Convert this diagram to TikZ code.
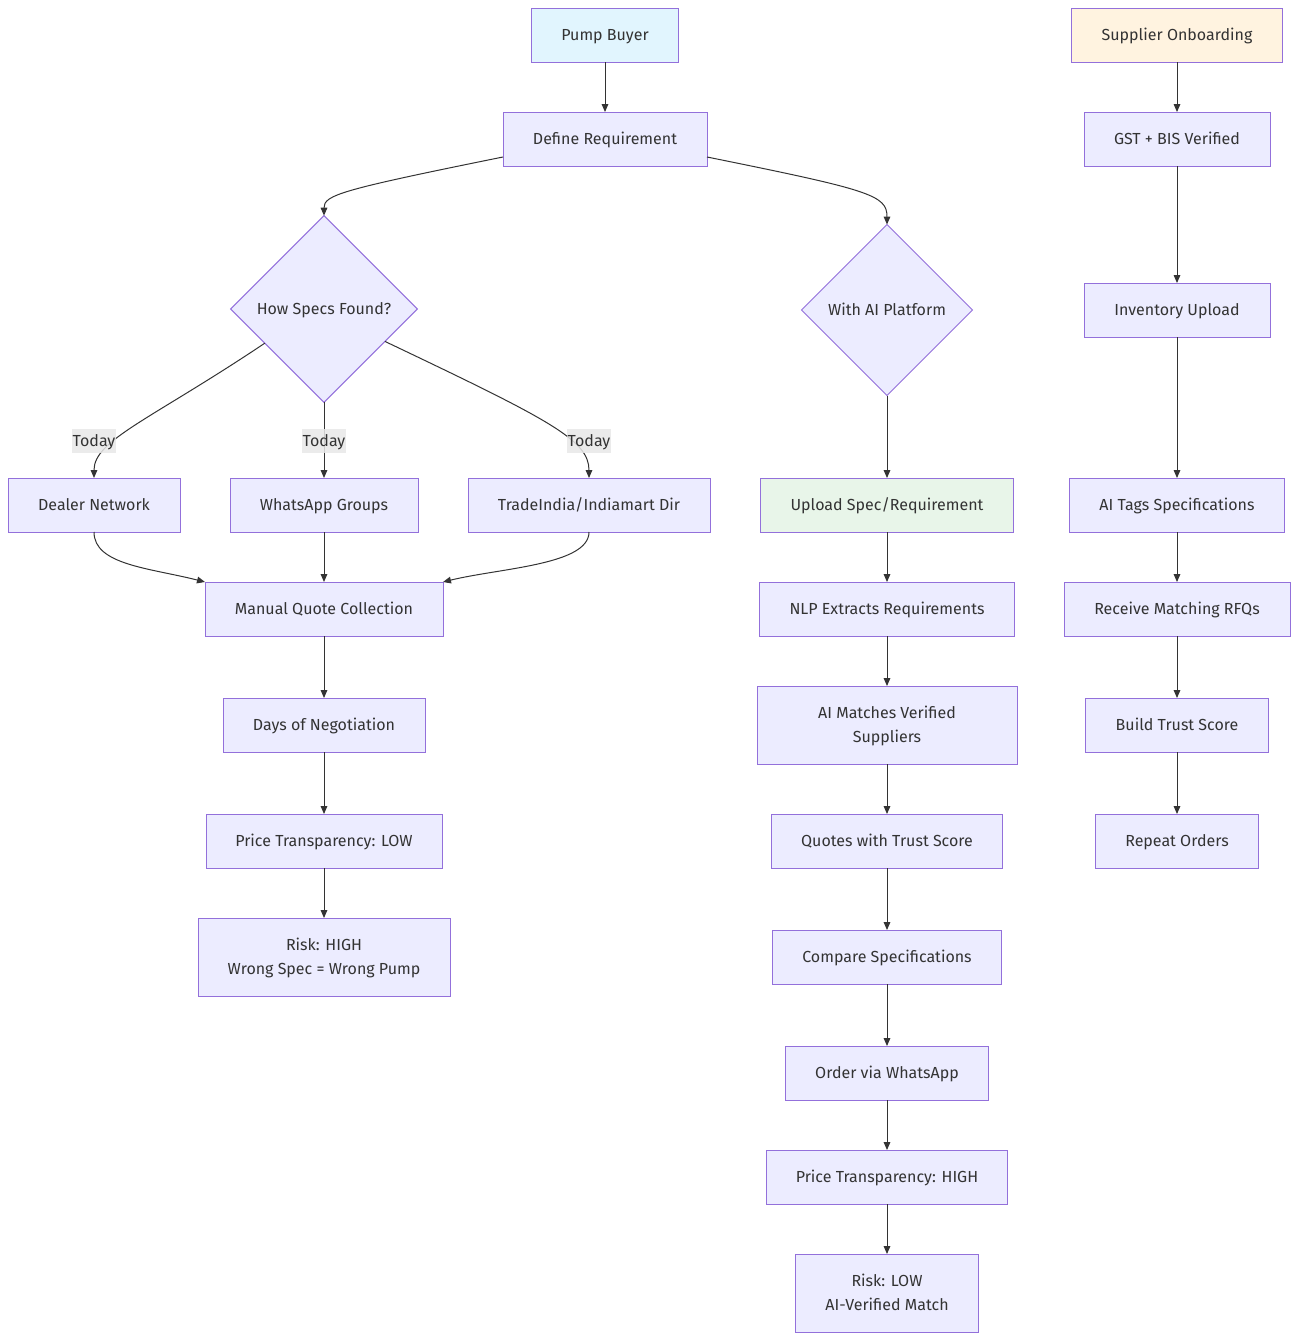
\documentclass[tikz,border=0pt]{standalone}
\usepackage{fontspec}
\setmainfont{Fira Sans}
\usepackage{tikz}
\usetikzlibrary{shapes.geometric,arrows.meta,positioning}

\definecolor{boxfill}{HTML}{ECECFF}
\definecolor{boxline}{HTML}{9370DB}
\definecolor{buyerfill}{HTML}{E1F5FE}
\definecolor{supplyfill}{HTML}{FFF3E0}
\definecolor{uploadfill}{HTML}{E8F5E9}
\definecolor{linkcol}{HTML}{333333}
\definecolor{tagfill}{HTML}{E8E8E8}

\begin{document}
\begin{tikzpicture}[x=0.75pt, y=-0.75pt, >={Triangle[length=6pt,width=5pt]},
    block/.style={rectangle, draw=boxline, fill=boxfill, line width=0.75pt, outer sep=0pt, text=linkcol, align=center, inner sep=2pt, minimum height=40.5pt, text height=8.3pt, text depth=0pt, font=\fontsize{12pt}{18pt}\selectfont},
    tallblock/.style={block, minimum height=58.5pt, text height=26.3pt, text depth=0pt},
    choice/.style={diamond, draw=boxline, fill=boxfill, line width=0.75pt, outer sep=0pt, text=linkcol, inner sep=0pt, text height=8.3pt, text depth=0pt, font=\fontsize{12pt}{18pt}\selectfont},
    link/.style={->, linkcol, line width=0.75pt},
    today/.style={fill=tagfill, fill opacity=0.85, text opacity=1, text=linkcol, inner xsep=0.5pt, inner ysep=4.85pt, text height=8.3pt, text depth=0pt, font=\fontsize{12pt}{18pt}\selectfont}]

    \useasboundingbox (0,0) rectangle (1298,1340);

    % buyer side
    \node [block, fill=buyerfill, minimum width=110.25pt] (buyer) at (605,35) {Pump Buyer};
    \node [block, minimum width=153pt, below=37.5pt of buyer] (define) {Define Requirement};
    \node [choice, minimum width=140pt, minimum height=140pt] (specs) at (324,309) {How Specs Found?};
    \node [choice, minimum width=128.25pt, minimum height=128.25pt] (aiplat) at (887,310) {With AI Platform};

    % today
    \node [block, minimum width=129pt] (dealer) at (94,505) {Dealer Network};
    \node [block, minimum width=141pt] (whatsapp) at (324,505) {WhatsApp Groups};
    \node [block, minimum width=181.5pt] (trade) at (589,505) {TradeIndia/Indiamart Dir};
    \node [block, minimum width=178.5pt, below=37.5pt of whatsapp] (manual) {Manual Quote Collection};
    \node [block, minimum width=151.5pt, below=46.5pt of manual] (days) {Days of Negotiation};
    \node [block, minimum width=177pt, below=46.5pt of days] (pricelow) {Price Transparency: LOW};
    \node [tallblock, minimum width=189pt, below=37.5pt of pricelow] (riskhigh) {Risk: HIGH\\Wrong Spec = Wrong Pump};

    % with the platform
    \node [block, fill=uploadfill, minimum width=189.75pt] (upload) at (887,505) {Upload Spec/Requirement};
    \node [block, minimum width=191.25pt, below=37.5pt of upload] (nlp) {NLP Extracts Requirements};
    \node [tallblock, minimum width=195pt, below=37.5pt of nlp] (aimatch) {AI Matches Verified\\Suppliers};
    \node [block, minimum width=173.25pt, below=37.5pt of aimatch] (quotes) {Quotes with Trust Score};
    \node [block, minimum width=171.75pt, below=46.5pt of quotes] (compare) {Compare Specifications};
    \node [block, minimum width=152.25pt, below=46.5pt of compare] (order) {Order via WhatsApp};
    \node [block, minimum width=180.75pt, below=37.5pt of order] (pricehigh) {Price Transparency: HIGH};
    \node [tallblock, minimum width=137.25pt, below=37.5pt of pricehigh] (risklow) {Risk: LOW\\AI-Verified Match};

    % supplier side
    \node [block, fill=supplyfill, minimum width=158.25pt] (supplier) at (1177,35) {Supplier Onboarding};
    \node [block, minimum width=139.5pt, below=37.5pt of supplier] (gst) {GST + BIS Verified};
    \node [block, minimum width=139.5pt, below=87.75pt of gst] (inventory) {Inventory Upload};
    \node [block, minimum width=161.25pt] (aitags) at (1177,505) {AI Tags Specifications};
    \node [block, minimum width=169.5pt, below=37.5pt of aitags] (rfq) {Receive Matching RFQs};
    \node [block, minimum width=137.25pt, below=46.5pt of rfq] (trust) {Build Trust Score};
    \node [block, minimum width=122.25pt, below=46.5pt of trust] (repeat) {Repeat Orders};

    \draw [link] (buyer) -- (define);
    \draw [link] (define.190) .. controls (340,190) and (324,195) .. (specs.north);
    \draw [link] (define.-10) .. controls (870,190) and (887,195) .. (aiplat.north);

    \draw [link] (specs.210) .. controls (150,420) and (94,440) .. (dealer.north);
    \draw [link] (specs) -- (whatsapp);
    \draw [link] (specs.-28) .. controls (550,420) and (589,440) .. (trade.north);
    \node [today] (tag1) at (94,441) {Today};
    \node [today] (tag2) at (324,441) {Today};
    \node [today] (tag3) at (589,441) {Today};

    \draw [link] (dealer.south) .. controls (94,565) and (150,568) .. (manual.north west);
    \draw [link] (whatsapp) -- (manual);
    \draw [link] (trade.south) .. controls (589,565) and (500,568) .. (manual.north east);
    \draw [link] (manual) -- (days);
    \draw [link] (days) -- (pricelow);
    \draw [link] (pricelow) -- (riskhigh);

    \draw [link] (aiplat) -- (upload);
    \draw [link] (upload) -- (nlp);
    \draw [link] (nlp) -- (aimatch);
    \draw [link] (aimatch) -- (quotes);
    \draw [link] (quotes) -- (compare);
    \draw [link] (compare) -- (order);
    \draw [link] (order) -- (pricehigh);
    \draw [link] (pricehigh) -- (risklow);

    \draw [link] (supplier) -- (gst);
    \draw [link] (gst) -- (inventory);
    \draw [link] (inventory) -- (aitags);
    \draw [link] (aitags) -- (rfq);
    \draw [link] (rfq) -- (trust);
    \draw [link] (trust) -- (repeat);
\end{tikzpicture}
\end{document}
